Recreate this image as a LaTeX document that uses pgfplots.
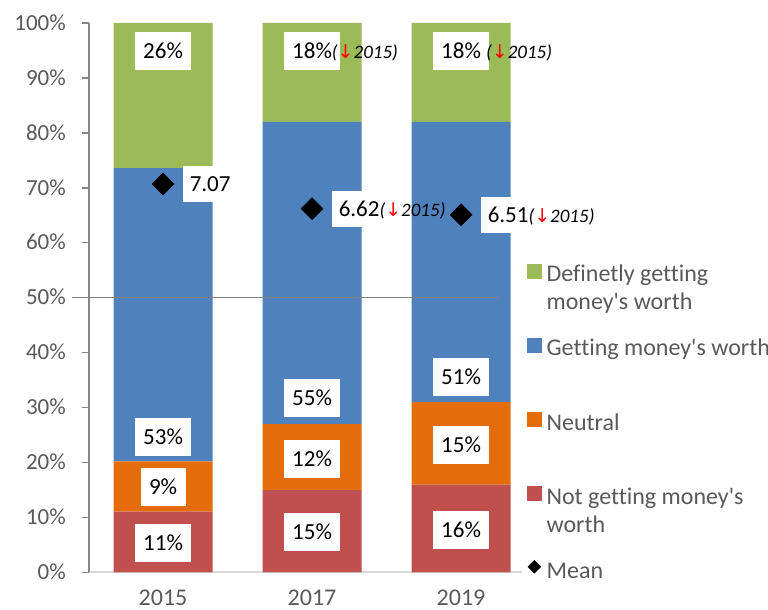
\documentclass[border=0pt]{standalone}
\usepackage{pgfplots}
\pgfplotsset{compat=1.18}
\usepackage{fontspec}
\setmainfont{Carlito}[Ligatures=NoCommon]
\newfontfamily\arrowfont{DejaVu Sans}
\definecolor{cgreen}{HTML}{9BBB59}
\definecolor{cblue}{HTML}{4F81BD}
\definecolor{corange}{HTML}{E46C0A}
\definecolor{cred}{HTML}{C0504D}
\definecolor{ctxt}{HTML}{595959}
\definecolor{caxis}{HTML}{868686}
\definecolor{cxaxis}{HTML}{D9D9D9}
\definecolor{cline}{HTML}{7F7F7F}
\newcommand\dnb{\fontsize{19}{19}\selectfont\itshape(\textcolor{red}{\upshape\arrowfont ↓}2015)}
\newcommand\dn{\rlap{\dnb}}
\newcommand\dnsp{\rlap{\ \dnb}}
\newcommand\q{\textquotesingle}
\newcommand\ent[2]{\parbox[t]{260pt}{\strut#1\\\strut#2}}
\begin{document}
\begin{tikzpicture}
\path[use as bounding box] (0,0) rectangle (768pt,610pt);
\begin{axis}[
  at={(89pt,37.5pt)}, anchor=south west,
  scale only axis, width=433pt, height=549.5pt,
  ybar stacked, bar width=99pt,
  xmin=-0.497, xmax=2.409, ymin=0, ymax=100,
  axis x line*=bottom, axis y line*=left,
  x axis line style={draw=cxaxis, line width=2pt, -},
  y axis line style={draw=caxis, line width=1.4pt, -},
  xtick={0,1,2}, xticklabels={2015,2017,2019},
  ytick={0,10,...,100},
  yticklabels={0\%,10\%,20\%,30\%,40\%,50\%,60\%,70\%,80\%,90\%,100\%},
  x tick style={draw=none},
  y tick style={draw=caxis, line width=1.4pt},
  tick align=outside, major tick length=7pt,
  ticklabel style={font=\fontsize{23}{28}\selectfont, text=ctxt},
  xticklabel style={anchor=base, yshift=-26pt, font=\fontsize{24}{28}\selectfont},
  yticklabel style={anchor=base east, inner xsep=0pt, xshift=-16pt, yshift=-7.2pt},
  legend style={at={(axis description cs:1.0115,0.565)}, anchor=north west,
    draw=none, fill=none, inner sep=0pt, row sep=53pt, column sep=5pt,
    font=\fontsize{24}{28}\selectfont, text=ctxt, nodes={inner sep=0pt}},
  legend cell align=left,
]
\addplot[fill=cred, draw=none, forget plot] coordinates {(0,11.1) (1,15) (2,16)};
\addplot[fill=corange, draw=none, forget plot] coordinates {(0,9.1) (1,12) (2,15)};
\addplot[fill=cblue, draw=none, forget plot] coordinates {(0,53.4) (1,55) (2,51)};
\addplot[fill=cgreen, draw=none, forget plot] coordinates {(0,26.4) (1,18) (2,18)};
\addlegendimage{legend image code/.code={\fill[cgreen] (0pt,-5pt) rectangle (14pt,9pt);}}
\addlegendentry{\ent{Definetly getting}{money\q s worth}}
\addlegendimage{legend image code/.code={\fill[cblue] (0pt,-5pt) rectangle (14pt,9pt);}}
\addlegendentry{\ent{Getting money\q s worth}{}}
\addlegendimage{legend image code/.code={\fill[corange] (0pt,-5pt) rectangle (14pt,9pt);}}
\addlegendentry{\ent{Neutral}{}}
\addlegendimage{legend image code/.code={\fill[cred] (0pt,-5pt) rectangle (14pt,9pt);}}
\addlegendentry{\ent{Not getting money\q s}{worth}}
\addlegendimage{legend image code/.code={\fill[black] (7pt,-4pt) -- (13.5pt,2.5pt) -- (7pt,9pt) -- (0.5pt,2.5pt) -- cycle;}}
\addlegendentry{\ent{Mean}{}}
\end{axis}
\begin{axis}[
  at={(89pt,37.5pt)}, anchor=south west,
  scale only axis, width=433pt, height=549.5pt,
  xmin=-0.497, xmax=2.409, ymin=0, ymax=100,
  hide axis, clip=false,
]
\addplot[draw=cline, line width=1.4pt, no marks] coordinates {(-0.61,50) (2.262,50)};
\addplot[draw=none, no marks, point meta=explicit symbolic, nodes near coords,
  nodes near coords align={center},
  every node near coord/.append style={anchor=center, fill=white, text=black,
    font=\fontsize{23}{28}\selectfont, inner xsep=8.5pt, inner ysep=0pt,
    text height=15pt, text depth=0pt, minimum height=38pt}]
  coordinates {
  (0,5.4) [11\%] (0,15.6) [9\%] (0,24.7) [53\%] (0,94.9) [26\%]
  (1,7.4) [15\%] (1,20.7) [12\%] (1,31.7) [55\%] (1,94.9) [18\%\dn]
  (2,7.8) [16\%] (2,23.2) [15\%] (2,35.6) [51\%] (2,94.9) [18\%\dnsp]
  };
\end{axis}
\begin{axis}[
  at={(89pt,37.5pt)}, anchor=south west,
  scale only axis, width=433pt, height=549.5pt,
  xmin=-0.497, xmax=2.409, ymin=0, ymax=10,
  hide axis, clip=false,
]
\addplot[only marks, mark=square*, mark size=7.8pt,
  mark options={rotate=45, fill=black, draw=black},
  point meta=explicit symbolic, nodes near coords,
  nodes near coords align={west},
  every node near coord/.append style={anchor=west, xshift=20pt, fill=white, text=black,
    font=\fontsize{23}{28}\selectfont, inner xsep=6.5pt, inner ysep=0pt,
    text height=15pt, text depth=0pt, minimum height=36pt}]
  coordinates {(0,7.07) [7.07] (1,6.62) [6.62\dn] (2,6.51) [6.51\dn]};
\end{axis}
\end{tikzpicture}
\end{document}
